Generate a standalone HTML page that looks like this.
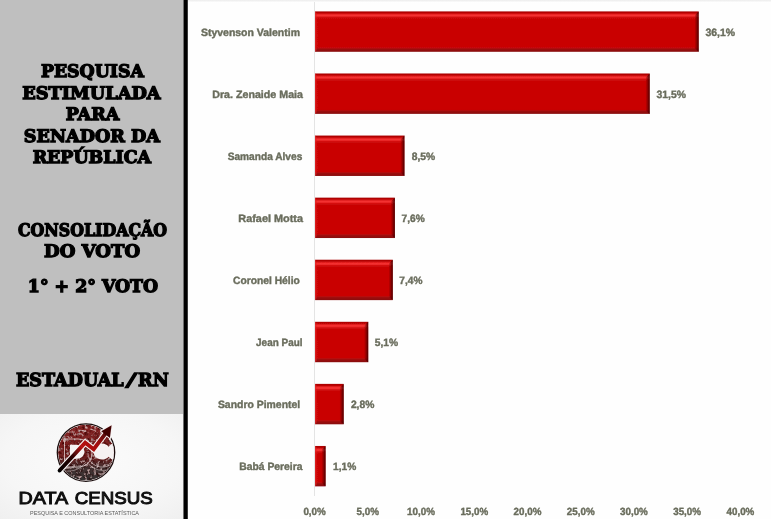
<!DOCTYPE html>
<html lang="pt-BR">
<head>
<meta charset="utf-8">
<title>Pesquisa estimulada para Senador da República</title>
<style>
html,body{margin:0;padding:0;}
body{width:771px;height:519px;overflow:hidden;background:#fff;position:relative;font-family:"Liberation Sans",sans-serif;}
#left{position:absolute;left:0;top:0;width:184px;height:414px;background:#bfbfbf;}
#vbar{position:absolute;left:183px;top:0;width:5px;height:519px;background:linear-gradient(to right,#6e6e6e 0,#6e6e6e 1px,#000 1px,#000 4px,#3a3a3a 4px,#3a3a3a 5px);}
.t{position:absolute;width:300px;text-align:center;font-family:"DejaVu Serif",serif;font-weight:bold;color:#000;font-size:16px;line-height:20px;white-space:nowrap;-webkit-text-stroke:1.3px #000;text-rendering:geometricPrecision;filter:blur(0.3px);}
.t span{display:inline-block;transform-origin:50% 50%;}
#chart{position:absolute;left:188px;top:0;}
#chart text{font-family:"Liberation Sans",sans-serif;font-weight:bold;stroke:#6a6d5d;stroke-width:0.4px;text-rendering:geometricPrecision;}
</style>
</head>
<body>
<div id="left"></div>
<svg id="logosvg" width="184" height="105" viewBox="0 414 184 105" style="position:absolute;left:0;top:414px;overflow:hidden">
<defs>
<radialGradient id="bgv" cx="0.5" cy="0.45" r="0.8">
<stop offset="0" stop-color="#fbfbfb"/><stop offset="0.6" stop-color="#f6f6f6"/><stop offset="1" stop-color="#eeeeee"/>
</radialGradient>
<linearGradient id="disc" x1="0" y1="0" x2="0" y2="1">
<stop offset="0" stop-color="#8a2828"/><stop offset="0.58" stop-color="#702020"/><stop offset="0.76" stop-color="#453030"/><stop offset="1" stop-color="#343434"/>
</linearGradient>
<linearGradient id="arr" gradientUnits="userSpaceOnUse" x1="59" y1="471" x2="111" y2="426">
<stop offset="0" stop-color="#050000"/><stop offset="0.28" stop-color="#2a0303"/><stop offset="0.48" stop-color="#b81212"/><stop offset="0.7" stop-color="#a00c0c"/><stop offset="0.85" stop-color="#5a0808"/><stop offset="1" stop-color="#300404"/>
</linearGradient>
<filter id="tex" x="0" y="0" width="100%" height="100%">
<feTurbulence type="fractalNoise" baseFrequency="0.33" numOctaves="2" seed="11" result="n"/>
<feColorMatrix in="n" type="matrix" values="0 0 0 0 0  0 0 0 0 0  0 0 0 0 0  2.2 0 0 0 -0.95" result="dark"/>
<feFlood flood-color="#2a0606" result="dk"/>
<feComposite in="dk" in2="dark" operator="in" result="dspots"/>
<feColorMatrix in="n" type="matrix" values="0 0 0 0 0  0 0 0 0 0  0 0 0 0 0  0 2.4 0 0 -1.32" result="light"/>
<feFlood flood-color="#e8c4c4" result="lt"/>
<feComposite in="lt" in2="light" operator="in" result="lspots"/>
<feMerge><feMergeNode in="SourceGraphic"/><feMergeNode in="dspots"/><feMergeNode in="lspots"/></feMerge>
<feComposite in2="SourceGraphic" operator="in"/>
</filter>
<clipPath id="cc"><circle cx="86" cy="452.6" r="28"/></clipPath>
<filter id="soft" x="-10%" y="-10%" width="120%" height="120%"><feGaussianBlur stdDeviation="0.45"/></filter>
<filter id="soft2" x="-10%" y="-30%" width="120%" height="160%"><feGaussianBlur stdDeviation="0.3"/></filter>
</defs>
<rect x="0" y="414" width="184" height="105" fill="url(#bgv)"/>
<g filter="url(#soft)">
<circle cx="86" cy="452.6" r="28.700" fill="#f3eeee" stroke="#1c1010" stroke-width="1.300"/>
<g clip-path="url(#cc)">
<circle cx="86" cy="452.600" r="28" fill="url(#disc)" filter="url(#tex)"/>
<!-- D counter -->
<path d="M70 444.800h6.300c5.200 0 8 3.200 8 7s-2.800 7-8 7h-6.300z" fill="#f6f2f2"/>
<!-- D outer outline -->
<path d="M62.500 439h15.500c8.500 0 14 6 14 14s-5.500 14-14 14h-13.500v-26" fill="none" stroke="#f3e6e6" stroke-width="0.800" opacity="0.900"/>
<!-- C counter + opening to the right -->
<path d="M102 443.600c-5 0-8.600 3.600-8.600 8s3.600 8 8.600 8c2.900 0 5-1.100 6.600-2.900l1.500 1.400c1.500 1.600 3.500 2.600 4.600 0.600v-14c-1.100-2-3.100-1-4.600 0.600l-1.500 1.400c-1.600-1.800-3.700-3.100-6.600-3.100z" fill="#f6f2f2"/>
<path d="M108.500 439l3.200 4.200 3 -0.500 -2.500 -6.500z" fill="#f6f2f2"/>
<path d="M114.500 460c-3 6.500-12 9-19 5.500-5-2.500-7.500-7.500-7.500-12.500" fill="none" stroke="#f3e6e6" stroke-width="0.700" opacity="0.850"/>
<path d="M60 469.500c8 3.500 19 1.500 25-6.500M87 462c5 8 17 11 26 6" fill="none" stroke="#f3e6e6" stroke-width="0.600" opacity="0.750"/>
<path d="M66 432l9 0M78 430l8 1M90 429l6 2" stroke="#f0dede" stroke-width="1.200" opacity="0.500"/>
</g>
<!-- arrow -->
<path d="M59.600 470.500L85.200 442.600L93.700 449.200L106 432.800" fill="none" stroke="#f8f4f4" stroke-width="6" stroke-linejoin="miter"/>
<path d="M101.200 431.200L111.600 425.200L109.900 438z" fill="#f8f4f4" stroke="#f8f4f4" stroke-width="2" stroke-linejoin="round"/>
<path d="M59.600 470.500L85.200 442.600L93.700 449.200L106 432.800" fill="none" stroke="url(#arr)" stroke-width="3.900" stroke-linejoin="miter" stroke-linecap="round"/>
<path d="M101.200 431.200L111.600 425.200L109.900 438z" fill="#420606"/>
</g>
<text y="503.800" font-family="'Liberation Sans',sans-serif" font-size="17.200" fill="#0a0a0a" stroke="#0a0a0a" stroke-width="0.950" filter="url(#soft2)"><tspan x="18.600" textLength="48.500" lengthAdjust="spacingAndGlyphs">DATA</tspan> <tspan x="74.800" textLength="77.800" lengthAdjust="spacingAndGlyphs">CENSUS</tspan></text>
<text x="84.500" y="515.300" text-anchor="middle" font-family="'Liberation Sans',sans-serif" font-size="5.700" fill="#5a5a5a" textLength="109" lengthAdjust="spacingAndGlyphs" filter="url(#soft2)">PESQUISA E CONSULTORIA ESTATÍSTICA</text>
</svg>
<div class="t" style="top:62px;left:-58.0px;font-size:17.3px"><span style="transform:scaleX(1.002)">PESQUISA</span></div>
<div class="t" style="top:84px;left:-58.2px;font-size:17.3px"><span style="transform:scaleX(1.027)">ESTIMULADA</span></div>
<div class="t" style="top:105px;left:-57.8px;font-size:17.3px"><span style="transform:scaleX(1.013)">PARA</span></div>
<div class="t" style="top:127px;left:-58.0px;font-size:17.3px"><span style="transform:scaleX(1.017)">SENADOR DA</span></div>
<div class="t" style="top:148px;left:-57.8px;font-size:17.3px"><span style="transform:scaleX(1.006)">REPÚBLICA</span></div>
<div class="t" style="top:221px;left:-58.0px;font-size:17.3px"><span style="transform:scaleX(0.915)">CONSOLIDAÇÃO</span></div>
<div class="t" style="top:242px;left:-57.8px;font-size:17.3px"><span style="transform:scaleX(1.042)">DO VOTO</span></div>
<div class="t" style="top:277px;left:-57.5px;font-size:17.3px"><span style="transform:scaleX(1.002)">1° + 2° VOTO</span></div>
<div class="t" style="top:371px;left:-57.8px;font-size:18px"><span style="transform:scaleX(0.975)">ESTADUAL<span style="display:inline-block;transform:scaleX(1.4) skewX(-8deg);margin:0 3.6px 0 4.6px">/</span>RN</span></div>
<svg id="chart" width="583" height="519" viewBox="188 0 583 519">
<defs>
<linearGradient id="bv" x1="0" y1="0" x2="0" y2="1">
<stop offset="0" stop-color="#a60000"/>
<stop offset="0.035" stop-color="#b80000"/>
<stop offset="0.085" stop-color="#f42e2e"/>
<stop offset="0.11" stop-color="#f43232"/>
<stop offset="0.15" stop-color="#d00a0a"/>
<stop offset="0.19" stop-color="#c90505"/>
<stop offset="0.89" stop-color="#c90606"/>
<stop offset="0.94" stop-color="#9a0c10"/>
<stop offset="1" stop-color="#880a10"/>
</linearGradient>
<linearGradient id="br" x1="0" y1="0" x2="1" y2="0">
<stop offset="0" stop-color="#700000" stop-opacity="0"/>
<stop offset="0.45" stop-color="#700000" stop-opacity="0.55"/>
<stop offset="1" stop-color="#400000" stop-opacity="1"/>
</linearGradient>
<linearGradient id="bl" x1="0" y1="0" x2="1" y2="0">
<stop offset="0" stop-color="#e02020" stop-opacity="0.9"/>
<stop offset="1" stop-color="#e02020" stop-opacity="0"/>
</linearGradient>
<linearGradient id="topg" x1="0" y1="0" x2="0" y2="1">
<stop offset="0" stop-color="#ececec"/><stop offset="1" stop-color="#ffffff"/>
</linearGradient>
<filter id="tb" x="-5%" y="-30%" width="110%" height="160%"><feGaussianBlur stdDeviation="0.4"/></filter>
<filter id="bb" x="-2%" y="-10%" width="104%" height="120%"><feGaussianBlur stdDeviation="0.35"/></filter>
</defs>
<rect x="188" y="0" width="583" height="519" fill="#fefefe"/>
<rect x="188" y="0" width="583" height="2.5" fill="url(#topg)"/>
<rect x="314" y="2" width="1" height="494" fill="#e4e4e4"/>
<g filter="url(#bb)"><rect x="315.1" y="11.4" width="383.5" height="40.4" fill="url(#bv)"/><path d="M694.4 15.600000000000001L698.6 11.4V51.8L694.4 48.86z" fill="url(#br)"/><path d="M315.1 11.4L317.6 13.9V49.3L315.1 51.8z" fill="url(#bl)"/></g>
<g filter="url(#bb)"><rect x="315.1" y="73.48" width="334.5" height="40.4" fill="url(#bv)"/><path d="M645.4 77.68L649.6 73.48V113.88L645.4 110.94z" fill="url(#br)"/><path d="M315.1 73.48L317.6 75.98V111.38L315.1 113.88z" fill="url(#bl)"/></g>
<g filter="url(#bb)"><rect x="315.1" y="135.56" width="89.3" height="40.4" fill="url(#bv)"/><path d="M400.20000000000005 139.76L404.40000000000003 135.56V175.96L400.20000000000005 173.02z" fill="url(#br)"/><path d="M315.1 135.56L317.6 138.06V173.46L315.1 175.96z" fill="url(#bl)"/></g>
<g filter="url(#bb)"><rect x="315.1" y="197.64" width="79.7" height="40.4" fill="url(#bv)"/><path d="M390.6 201.83999999999997L394.8 197.64V238.04L390.6 235.1z" fill="url(#br)"/><path d="M315.1 197.64L317.6 200.14V235.54L315.1 238.04z" fill="url(#bl)"/></g>
<g filter="url(#bb)"><rect x="315.1" y="259.72" width="77.6" height="40.4" fill="url(#bv)"/><path d="M388.50000000000006 263.92L392.70000000000005 259.72V300.12L388.50000000000006 297.18z" fill="url(#br)"/><path d="M315.1 259.72L317.6 262.22V297.62L315.1 300.12z" fill="url(#bl)"/></g>
<g filter="url(#bb)"><rect x="315.1" y="321.8" width="53.1" height="40.4" fill="url(#bv)"/><path d="M364.00000000000006 326.0L368.20000000000005 321.8V362.2L364.00000000000006 359.26z" fill="url(#br)"/><path d="M315.1 321.8L317.6 324.3V359.7L315.1 362.2z" fill="url(#bl)"/></g>
<g filter="url(#bb)"><rect x="315.1" y="383.88" width="28.5" height="40.4" fill="url(#bv)"/><path d="M339.40000000000003 388.08L343.6 383.88V424.28L339.40000000000003 421.34z" fill="url(#br)"/><path d="M315.1 383.88L317.6 386.38V421.78L315.1 424.28z" fill="url(#bl)"/></g>
<g filter="url(#bb)"><rect x="315.1" y="445.96" width="10.4" height="40.4" fill="url(#bv)"/><path d="M321.34 450.12L325.5 445.96V486.35999999999996L321.34 483.448z" fill="url(#br)"/><path d="M315.1 445.96L317.6 448.46V483.85999999999996L315.1 486.35999999999996z" fill="url(#bl)"/></g>
<text x="300.0" y="36.3" text-anchor="end" font-size="10.6" fill="#6a6d5d" textLength="99.1" lengthAdjust="spacingAndGlyphs" filter="url(#tb)">Styvenson Valentim</text>
<text x="303.0" y="98.3" text-anchor="end" font-size="10.6" fill="#6a6d5d" textLength="90.8" lengthAdjust="spacingAndGlyphs" filter="url(#tb)">Dra. Zenaide Maia</text>
<text x="302.3" y="160.3" text-anchor="end" font-size="10.6" fill="#6a6d5d" textLength="74.6" lengthAdjust="spacingAndGlyphs" filter="url(#tb)">Samanda Alves</text>
<text x="303.0" y="222.3" text-anchor="end" font-size="10.6" fill="#6a6d5d" textLength="64.7" lengthAdjust="spacingAndGlyphs" filter="url(#tb)">Rafael Motta</text>
<text x="299.8" y="284.3" text-anchor="end" font-size="10.6" fill="#6a6d5d" textLength="66.8" lengthAdjust="spacingAndGlyphs" filter="url(#tb)">Coronel Hélio</text>
<text x="302.5" y="346.3" text-anchor="end" font-size="10.6" fill="#6a6d5d" textLength="46.4" lengthAdjust="spacingAndGlyphs" filter="url(#tb)">Jean Paul</text>
<text x="300.2" y="408.3" text-anchor="end" font-size="10.6" fill="#6a6d5d" textLength="82.3" lengthAdjust="spacingAndGlyphs" filter="url(#tb)">Sandro Pimentel</text>
<text x="302.5" y="470.3" text-anchor="end" font-size="10.6" fill="#6a6d5d" textLength="63.2" lengthAdjust="spacingAndGlyphs" filter="url(#tb)">Babá Pereira</text>
<text x="705.5" y="36.3" font-size="10.7" fill="#6a6d5d" textLength="29.6" lengthAdjust="spacingAndGlyphs" filter="url(#tb)">36,1%</text>
<text x="656.5" y="98.3" font-size="10.7" fill="#6a6d5d" textLength="29.4" lengthAdjust="spacingAndGlyphs" filter="url(#tb)">31,5%</text>
<text x="411.7" y="160.3" font-size="10.7" fill="#6a6d5d" textLength="23.5" lengthAdjust="spacingAndGlyphs" filter="url(#tb)">8,5%</text>
<text x="401.6" y="222.3" font-size="10.7" fill="#6a6d5d" textLength="23.2" lengthAdjust="spacingAndGlyphs" filter="url(#tb)">7,6%</text>
<text x="399.3" y="284.3" font-size="10.7" fill="#6a6d5d" textLength="23.1" lengthAdjust="spacingAndGlyphs" filter="url(#tb)">7,4%</text>
<text x="374.8" y="346.3" font-size="10.7" fill="#6a6d5d" textLength="23.4" lengthAdjust="spacingAndGlyphs" filter="url(#tb)">5,1%</text>
<text x="350.9" y="408.3" font-size="10.7" fill="#6a6d5d" textLength="23.5" lengthAdjust="spacingAndGlyphs" filter="url(#tb)">2,8%</text>
<text x="333.1" y="470.3" font-size="10.7" fill="#6a6d5d" textLength="23.2" lengthAdjust="spacingAndGlyphs" filter="url(#tb)">1,1%</text>
<text x="303.4" y="514.8" font-size="10.4" fill="#6a6d5d" textLength="22.4" lengthAdjust="spacingAndGlyphs" filter="url(#tb)">0,0%</text>
<text x="356.6" y="514.8" font-size="10.4" fill="#6a6d5d" textLength="22.4" lengthAdjust="spacingAndGlyphs" filter="url(#tb)">5,0%</text>
<text x="407.1" y="514.8" font-size="10.4" fill="#6a6d5d" textLength="27.8" lengthAdjust="spacingAndGlyphs" filter="url(#tb)">10,0%</text>
<text x="460.4" y="514.8" font-size="10.4" fill="#6a6d5d" textLength="27.8" lengthAdjust="spacingAndGlyphs" filter="url(#tb)">15,0%</text>
<text x="513.6" y="514.8" font-size="10.4" fill="#6a6d5d" textLength="27.8" lengthAdjust="spacingAndGlyphs" filter="url(#tb)">20,0%</text>
<text x="566.8" y="514.8" font-size="10.4" fill="#6a6d5d" textLength="27.8" lengthAdjust="spacingAndGlyphs" filter="url(#tb)">25,0%</text>
<text x="620.0" y="514.8" font-size="10.4" fill="#6a6d5d" textLength="27.8" lengthAdjust="spacingAndGlyphs" filter="url(#tb)">30,0%</text>
<text x="673.2" y="514.8" font-size="10.4" fill="#6a6d5d" textLength="27.8" lengthAdjust="spacingAndGlyphs" filter="url(#tb)">35,0%</text>
<text x="726.5" y="514.8" font-size="10.4" fill="#6a6d5d" textLength="27.8" lengthAdjust="spacingAndGlyphs" filter="url(#tb)">40,0%</text>
</svg>
<div id="vbar"></div>
</body>
</html>
